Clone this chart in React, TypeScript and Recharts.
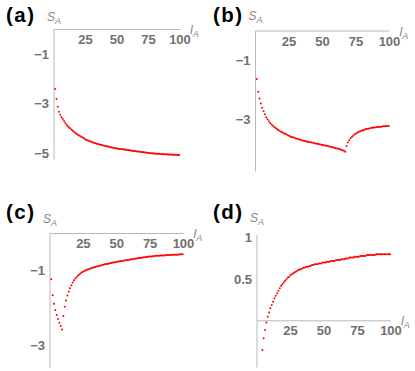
import React from "react";
import { ScatterChart, Scatter, XAxis, YAxis, ReferenceLine, ReferenceDot } from "recharts";

// subsystem size l_A (shared x values)
const lA = [
  1, 2, 3, 4, 5, 6, 7, 8, 9, 10, 11, 12, 13, 14, 15, 16, 17, 18, 19, 20,
  21, 22, 23, 24, 25, 26, 27, 28, 29, 30, 31, 32, 33, 34, 35, 36, 37, 38, 39, 40,
  41, 42, 43, 44, 45, 46, 47, 48, 49, 50, 51, 52, 53, 54, 55, 56, 57, 58, 59, 60,
  61, 62, 63, 64, 65, 66, 67, 68, 69, 70, 71, 72, 73, 74, 75, 76, 77, 78, 79, 80,
  81, 82, 83, 84, 85, 86, 87, 88, 89, 90, 91, 92, 93, 94, 95, 96, 97, 98, 99, 100,
];

const sA_a = [
  -2.41, -2.81, -3.13, -3.33, -3.45, -3.55, -3.62, -3.7, -3.78, -3.85,
  -3.91, -3.96, -4.01, -4.06, -4.1, -4.15, -4.19, -4.23, -4.26, -4.29,
  -4.32, -4.35, -4.38, -4.41, -4.45, -4.47, -4.49, -4.51, -4.53, -4.55,
  -4.57, -4.59, -4.6, -4.62, -4.63, -4.65, -4.66, -4.67, -4.69, -4.7,
  -4.71, -4.72, -4.73, -4.75, -4.76, -4.77, -4.78, -4.79, -4.8, -4.81,
  -4.82, -4.83, -4.83, -4.84, -4.85, -4.86, -4.87, -4.88, -4.88, -4.89,
  -4.9, -4.91, -4.92, -4.92, -4.93, -4.94, -4.94, -4.95, -4.96, -4.96,
  -4.97, -4.98, -4.98, -4.99, -5.0, -5.0, -5.01, -5.01, -5.02, -5.02,
  -5.03, -5.03, -5.03, -5.04, -5.04, -5.04, -5.05, -5.05, -5.05, -5.06,
  -5.06, -5.06, -5.06, -5.07, -5.07, -5.07, -5.07, -5.08, -5.08, -5.08,
];

const sA_b = [
  -1.63, -2.06, -2.29, -2.46, -2.6, -2.72, -2.82, -2.92, -2.99, -3.06,
  -3.12, -3.17, -3.21, -3.25, -3.29, -3.32, -3.35, -3.38, -3.41, -3.43,
  -3.46, -3.48, -3.5, -3.53, -3.55, -3.57, -3.59, -3.6, -3.62, -3.64,
  -3.65, -3.67, -3.68, -3.69, -3.71, -3.72, -3.73, -3.74, -3.75, -3.76,
  -3.77, -3.78, -3.79, -3.8, -3.81, -3.82, -3.83, -3.84, -3.85, -3.86,
  -3.87, -3.88, -3.89, -3.9, -3.91, -3.92, -3.93, -3.94, -3.96, -3.97,
  -3.98, -3.99, -4.01, -4.02, -4.04, -4.06, -4.09, -3.9, -3.78, -3.7,
  -3.63, -3.58, -3.54, -3.5, -3.47, -3.44, -3.42, -3.4, -3.38, -3.36,
  -3.35, -3.33, -3.32, -3.31, -3.3, -3.29, -3.28, -3.27, -3.27, -3.26,
  -3.25, -3.25, -3.24, -3.24, -3.23, -3.23, -3.23, -3.22, -3.22, -3.22,
];

const sA_c = [
  -1.23, -1.66, -1.89, -2.06, -2.19, -2.3, -2.4, -2.49, -2.58, -2.22,
  -1.97, -1.8, -1.67, -1.56, -1.47, -1.39, -1.32, -1.26, -1.21, -1.17,
  -1.13, -1.1, -1.07, -1.04, -1.02, -1.0, -0.99, -0.97, -0.96, -0.95,
  -0.93, -0.92, -0.91, -0.9, -0.89, -0.88, -0.87, -0.86, -0.85, -0.84,
  -0.83, -0.82, -0.82, -0.81, -0.8, -0.79, -0.78, -0.78, -0.77, -0.76,
  -0.75, -0.75, -0.74, -0.74, -0.73, -0.72, -0.72, -0.71, -0.71, -0.7,
  -0.69, -0.69, -0.68, -0.68, -0.67, -0.66, -0.66, -0.65, -0.65, -0.64,
  -0.64, -0.63, -0.63, -0.62, -0.62, -0.62, -0.61, -0.61, -0.6, -0.6,
  -0.6, -0.6, -0.59, -0.59, -0.59, -0.59, -0.58, -0.58, -0.58, -0.58,
  -0.58, -0.57, -0.57, -0.57, -0.57, -0.57, -0.56, -0.56, -0.56, -0.56,
];

const sA_d = [
  null, null, null, -0.35, -0.21, -0.11, -0.02, 0.05, 0.1, 0.15,
  0.19, 0.23, 0.27, 0.3, 0.33, 0.36, 0.39, 0.42, 0.44, 0.46,
  0.48, 0.5, 0.52, 0.53, 0.55, 0.56, 0.57, 0.58, 0.59, 0.6,
  0.61, 0.62, 0.62, 0.63, 0.64, 0.64, 0.65, 0.65, 0.66, 0.66,
  0.67, 0.67, 0.68, 0.68, 0.68, 0.69, 0.69, 0.69, 0.7, 0.7,
  0.7, 0.71, 0.71, 0.71, 0.72, 0.72, 0.72, 0.72, 0.73, 0.73,
  0.73, 0.73, 0.74, 0.74, 0.74, 0.75, 0.75, 0.75, 0.76, 0.76,
  0.76, 0.76, 0.77, 0.77, 0.77, 0.77, 0.78, 0.78, 0.78, 0.78,
  0.78, 0.79, 0.79, 0.79, 0.79, 0.79, 0.79, 0.79, 0.8, 0.8,
  0.8, 0.8, 0.8, 0.8, 0.8, 0.8, 0.8, 0.8, 0.8, 0.8,
];

const xTicks = [25, 50, 75, 100];
const yTicksA = [-1, -3, -5];
const yTicksB = [-1, -3];
const yTicksC = [-1, -3];
const yTicksD = [0.5, 1];

const FONT = "'Liberation Sans', Arial, Helvetica, sans-serif";
const TICK_COLOR = "#707070";
const LABEL_COLOR = "#858585";
const AXIS_COLOR = "#b8b8b8";
const DOT_COLOR = "#ff0000";

const fmt = (v: number) => (v < 0 ? "\u2212" + Math.abs(v) : String(v));

const toPoints = (ys: (number | null)[]) =>
  lA.map((x, i) => ({ x, y: ys[i] })).filter((p) => p.y !== null);

const Dot = (props: any) => {
  const { cx, cy } = props;
  if (cx == null || cy == null) return null;
  return <circle cx={cx} cy={cy} r={1} fill={DOT_COLOR} />;
};

const XTick = (props: any) => {
  const { x, y, payload } = props;
  return (
    <text x={x} y={y + 14.5} textAnchor="middle" fill={TICK_COLOR} fontSize={13} fontWeight="bold" fontFamily={FONT}>
      {payload.value}
    </text>
  );
};

const saLabel = (off: number) => (p: any) => {
  const vb = p.viewBox;
  return (
    <text x={vb.x} y={vb.y - off} textAnchor="middle" fill={LABEL_COLOR} fontSize={12} fontStyle="italic" fontFamily={FONT}>
      S<tspan fontSize={9} dy={3}>A</tspan>
    </text>
  );
};

const laLabel = (dx: number) => (p: any) => {
  const vb = p.viewBox;
  return (
    <text x={vb.x + dx} y={vb.y + 4.5} fill={LABEL_COLOR} fontSize={12.5} fontStyle="italic" fontFamily={FONT}>
      l<tspan fontSize={9} dy={3}>A</tspan>
    </text>
  );
};

const xLabelAt = (v: number) => (p: any) => {
  const vb = p.viewBox;
  return (
    <text x={vb.x} y={vb.y + 14.5} textAnchor="middle" fill={TICK_COLOR} fontSize={13} fontWeight="bold" fontFamily={FONT}>
      {v}
    </text>
  );
};

type PanelProps = {
  left: number;
  top: number;
  width: number;
  height: number;
  margin: { top: number; right: number; bottom: number; left: number };
  ys: (number | null)[];
  yDomain: [number, number];
  yTicks: number[];
  midAxis?: boolean;
  saOff: number;
};

function Panel({ left, top, width, height, margin, ys, yDomain, yTicks, midAxis, saOff }: PanelProps) {
  // axes take 1px of room each, so the margins are trimmed by 1
  const m = { ...margin, top: margin.top - 1, left: margin.left - 1 };
  return (
    <div style={{ position: "absolute", left, top }}>
      <ScatterChart width={width} height={height} margin={m}>
        <XAxis
          type="number"
          dataKey="x"
          domain={[0, 100]}
          ticks={xTicks}
          orientation="top"
          height={1}
          allowDataOverflow
          axisLine={midAxis ? false : { stroke: AXIS_COLOR }}
          tickLine={false}
          tickSize={0}
          tickMargin={0}
          tick={midAxis ? false : <XTick />}
        />
        <YAxis
          type="number"
          dataKey="y"
          domain={yDomain}
          ticks={yTicks}
          width={1}
          allowDataOverflow
          axisLine={{ stroke: AXIS_COLOR }}
          tickLine={false}
          tickSize={0}
          tickMargin={5}
          tickFormatter={fmt}
          tick={{ fill: TICK_COLOR, fontSize: 13, fontWeight: "bold", fontFamily: FONT }}
        />
        {midAxis && <ReferenceLine y={0} stroke={AXIS_COLOR} />}
        {midAxis &&
          xTicks.map((t) => (
            <ReferenceDot key={t} x={t} y={0} r={0} fill="none" stroke="none" label={xLabelAt(t)} />
          ))}
        <ReferenceDot x={0} y={yDomain[1]} r={0} fill="none" stroke="none" label={saLabel(saOff)} />
        <ReferenceDot x={100} y={0} r={0} fill="none" stroke="none" label={laLabel(10)} />
        <Scatter data={toPoints(ys)} shape={<Dot />} isAnimationActive={false} />
      </ScatterChart>
    </div>
  );
}

const panelLetters = [
  { t: "(a)", x: 6, y: 22 },
  { t: "(b)", x: 213, y: 22 },
  { t: "(c)", x: 6, y: 219 },
  { t: "(d)", x: 213, y: 219 },
];

export default function App() {
  return (
    <div style={{ position: "absolute", left: 0, top: 0, width: 415, height: 371, background: "#fff", overflow: "hidden" }}>
      <Panel
        left={0}
        top={0}
        width={207}
        height={185}
        margin={{ top: 29.5, left: 54, right: 27, bottom: 25 }}
        ys={sA_a}
        yDomain={[-5.28, 0]}
        yTicks={yTicksA}
        saOff={9}
      />
      <Panel
        left={207}
        top={0}
        width={208}
        height={185}
        margin={{ top: 31, left: 48.5, right: 25.5, bottom: 13.5 }}
        ys={sA_b}
        yDomain={[-4.76, 0]}
        yTicks={yTicksB}
        saOff={11}
      />
      <Panel
        left={0}
        top={185}
        width={207}
        height={186}
        margin={{ top: 48.5, left: 50, right: 23.5, bottom: 2.5 }}
        ys={sA_c}
        yDomain={[-3.63, 0]}
        yTicks={yTicksC}
        saOff={11}
      />
      <Panel
        left={207}
        top={185}
        width={208}
        height={186}
        margin={{ top: 50, left: 50, right: 24, bottom: 3.5 }}
        ys={sA_d}
        yDomain={[-0.561, 1.031]}
        yTicks={yTicksD}
        midAxis
        saOff={13}
      />
      <svg width={415} height={371} style={{ position: "absolute", left: 0, top: 0, pointerEvents: "none" }}>
        {panelLetters.map((p) => (
          <text key={p.t} x={p.x} y={p.y} fontSize={20.5} fontWeight="bold" fontFamily={FONT} fill="#000" letterSpacing={1.5}>
            {p.t}
          </text>
        ))}
      </svg>
    </div>
  );
}
